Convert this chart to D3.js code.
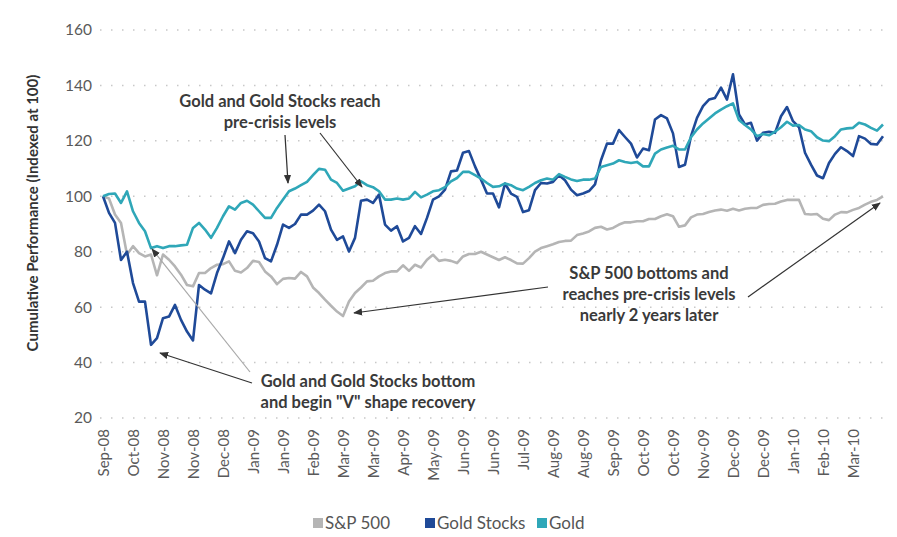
<!DOCTYPE html>
<html><head><meta charset="utf-8">
<script src="https://cdn.jsdelivr.net/npm/d3@7"></script>
<style>
html,body{margin:0;padding:0;background:#fff;}
text{font-family:Lato,"Open Sans",sans-serif;}
</style></head>
<body><svg id="chart" width="897" height="537"></svg>
<script>
const tickLabels = ["Sep-08","Oct-08","Nov-08","Nov-08","Dec-08","Jan-09","Jan-09","Feb-09","Mar-09","Mar-09","Apr-09","May-09","Jun-09","Jun-09","Jul-09","Aug-09","Aug-09","Sep-09","Oct-09","Oct-09","Nov-09","Dec-09","Dec-09","Jan-10","Feb-10","Mar-10"];
const yTicks = [20,40,60,80,100,120,140,160];

const sp500 = [100,99.2,93.4,90.4,79,82,79.5,78.3,79,71.5,79,77.1,74.7,71.7,68,67.5,72.3,72.3,74.1,75.3,
75.5,76.5,73.1,72.5,74.1,76.7,76.3,72.9,71.1,68.3,70.2,70.5,70.3,72.7,71.1,67.1,65.1,62.7,60.5,58.4,
56.8,62,65.1,67.1,69.3,69.5,71.1,72.3,72.9,72.9,75.1,73.1,75.3,74.3,77.1,78.9,76.7,77.1,76.7,75.9,
78.3,79.2,79.2,80,79,78,77,78,77,75.8,75.7,77.7,80,81.3,82,82.7,83.5,83.9,84,86,
86.6,87.3,88.6,89,88,88.6,89.8,90.6,90.6,91,91,91.8,91.8,92.8,93.5,92.8,89,89.5,92.4,93.4,
93.6,94.3,94.9,95.2,94.8,95.5,94.9,95.5,95.8,95.8,96.9,97.2,97.3,98.1,98.7,98.7,98.7,93.6,93.4,93.6,
91.9,91.4,93.4,94.3,94.2,95.1,95.8,97,98,98.7,100];

const goldStocks = [100,94,90.4,77,80,68.7,62,62,46.4,48.8,56,56.6,60.8,55.4,51.2,48,68,66.3,65,72.3,
77.7,83.7,79.5,84.3,87.4,86.7,83.7,77.7,76.5,82.5,89.8,88.6,90,93.4,93.4,94.8,97,94.6,88,84.3,
85.5,80.1,85,98.4,98.8,97.6,100.6,89.8,87.6,89.2,83.7,85,89.2,86.4,92.2,98.8,100,102.4,109,109.3,
115.7,116.3,110.8,106,101,101,96,104.6,101,99.8,94.3,95,102.2,104.8,104.6,105.2,107.6,105.8,102.4,100.4,
101,101.9,104.3,113,119,119,123.9,121.4,119,114,117.2,116.6,127.7,129.3,128.1,122.7,110.6,111.4,121.7,128.3,
132.5,134.9,135.5,139.2,134.9,144,129.5,125.9,126.5,120.1,122.9,123.3,122.9,128.9,132.2,127.1,124.9,115.7,111.4,107.5,
106.5,112,115.3,117.7,116.3,114.5,121.7,120.8,118.9,118.7,121.7];

const gold = [100,100.8,101,97.6,101.8,94.6,90.4,87.4,81.3,82,81.3,82,82,82.3,82.5,88.6,90.4,88,85,88.6,
92.8,96.4,95.2,97.6,98.4,97,94.6,92.2,92.2,95.8,98.8,101.8,102.8,104,105.2,107.6,109.9,109.6,106,104.8,
102,102.8,103.6,105.4,104,103.3,101.8,98.8,98.8,99.2,98.8,99.2,101.6,99.6,100.6,101.8,102.2,103.3,105.4,106.6,
108.8,108.8,107.6,106.4,104.8,103.4,103.6,104.6,104,102.8,102.2,103.4,104.8,105.8,106.4,106,108,107,106.1,105.5,
106,106,106.4,110.6,111.2,111.8,113,112.4,112,112.4,110.8,110.8,115.4,116.9,117.6,118.2,116.9,116.9,121.3,124.1,
126.3,128.1,129.9,131.3,132.5,133.5,127.5,125.7,124.1,121.7,122.5,122,123.3,124.9,126.9,125.5,125.7,124.1,123.5,121.3,
120.1,119.9,121.7,124.1,124.5,124.7,126.5,125.9,124.7,123.7,125.9];

const seriesNames = ["S&P 500","Gold Stocks","Gold"];
const seriesColors = ["#b5b5b5","#1f4a98","#2fa7b8"];
const seriesData = [sp500, goldStocks, gold];
const labelStep = 5;

const svg = d3.select("#chart");
const x = d3.scaleLinear().domain([0, sp500.length-1]).range([103, 883]);
const y = d3.scaleLinear().domain([20,160]).range([418, 30]);

// gridlines
svg.append("g").selectAll("line").data(yTicks).join("line")
  .attr("x1", 100).attr("x2", 886)
  .attr("y1", d=>y(d)).attr("y2", d=>y(d))
  .attr("stroke", "#c8c8c8").attr("stroke-width", 1.5)
  .attr("stroke-dasharray", "1.5,9.5").attr("stroke-linecap","butt");

// y axis
const yAxis = d3.axisLeft(y).tickValues(yTicks).tickSize(0).tickPadding(0);
const gy = svg.append("g").attr("transform","translate(92,0)").call(yAxis);
gy.select(".domain").remove();
gy.selectAll("text").attr("font-size",15.5).attr("fill","#5a5a5a").attr("font-family","Lato, sans-serif");

// x axis labels
const tickIdx = tickLabels.map((d,i)=>i*labelStep);
const xAxis = d3.axisBottom(x).tickValues(tickIdx).tickFormat((d,i)=>tickLabels[i]).tickSize(0).tickPadding(0);
const gx = svg.append("g").attr("transform","translate(0,429)").call(xAxis);
gx.select(".domain").remove();
gx.selectAll("text")
  .attr("font-size",15).attr("fill","#5a5a5a").attr("font-family","Lato, sans-serif")
  .attr("text-anchor","end").attr("dy","0.35em").attr("y",0).attr("x",0)
  .attr("transform","rotate(-90)");

// y axis title
svg.append("text").attr("transform","translate(38,213) rotate(-90)")
  .attr("text-anchor","middle").attr("font-size",15).attr("font-weight",700)
  .attr("fill","#333").text("Cumulative Performance (Indexed at 100)");

// lines
const line = d3.line().x((d,i)=>x(i)).y(d=>y(d)).curve(d3.curveLinear);
svg.append("g").selectAll("path").data(seriesData).join("path")
  .attr("d", d=>line(d)).attr("fill","none")
  .attr("stroke",(d,i)=>seriesColors[i]).attr("stroke-width",2.6)
  .attr("stroke-linejoin","round");

// arrow marker
const defs = svg.append("defs");
defs.append("marker").attr("id","ah").attr("viewBox","0 0 10 10")
  .attr("refX",9).attr("refY",5).attr("markerWidth",9).attr("markerHeight",9)
  .attr("markerUnits","userSpaceOnUse").attr("orient","auto")
  .append("path").attr("d","M0,1 L10,5 L0,9 Z").attr("fill","#333");

function arrow(x1,y1,x2,y2,color,w){
  svg.append("line").attr("x1",x1).attr("y1",y1).attr("x2",x2).attr("y2",y2)
    .attr("stroke",color).attr("stroke-width",w).attr("marker-end","url(#ah)");
}
arrow(285,135,288,183,"#333",1.2);
arrow(320,133,362,187,"#333",1.2);
arrow(548,287,354,313,"#333",1.2);
arrow(748,297,880,203,"#333",1.2);
arrow(250,372,152,249,"#a8a8a8",1.2);
arrow(252,383,160,353,"#333",1.2);

function label(cx, ys, lines){
  const t = svg.append("text").attr("text-anchor","middle").attr("font-size",16.5)
    .attr("font-weight",700).attr("fill","#3a3a3a");
  lines.forEach((l,i)=>t.append("tspan").attr("x",cx).attr("y",ys[i]).text(l));
}
label(280,[107,128],["Gold and Gold Stocks reach","pre-crisis levels"]);
label(649,[279,300,321],["S&P 500 bottoms and","reaches pre-crisis levels","nearly 2 years later"]);
label(368,[387,408],["Gold and Gold Stocks bottom","and begin \"V\" shape recovery"]);

// legend
const legX = [313, 425, 537];
const lg = svg.append("g");
seriesNames.forEach((n,i)=>{
  lg.append("rect").attr("x",legX[i]).attr("y",518).attr("width",10).attr("height",10).attr("fill",seriesColors[i]);
  lg.append("text").attr("x",legX[i]+12).attr("y",528.5).attr("font-size",17).attr("fill","#555").text(n);
});
</script></body></html>
